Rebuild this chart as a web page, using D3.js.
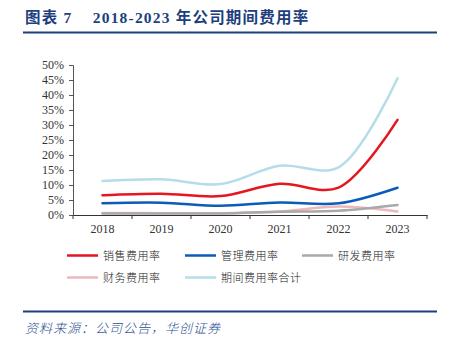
<!DOCTYPE html>
<html>
<head>
<meta charset="utf-8">
<script src="https://cdn.jsdelivr.net/npm/d3@7"></script>
<style>
  body { margin: 0; background: #fff; }
  svg { display: block; }
</style>
</head>
<body>
<div id="graph"></div>
<script>
// data (percent)
var years = ["2018", "2019", "2020", "2021", "2022", "2023"];
var salesRate = [6.6, 7.1, 6.3, 10.4, 9.1, 31.7];
var adminRate = [3.9, 4.1, 3.1, 4.2, 3.9, 9.1];
var rdRate = [0.5, 0.5, 0.5, 1.1, 1.4, 3.3];
var financeRate = [0.7, 0.6, 0.6, 1.2, 2.8, 1.2];
var totalRate = [11.3, 11.9, 10.3, 16.4, 15.9, 45.6];
var yTicks = [0, 5, 10, 15, 20, 25, 30, 35, 40, 45, 50];

var seriesNames = ["销售费用率", "管理费用率", "研发费用率", "财务费用率", "期间费用率合计"];
var seriesValues = [salesRate, adminRate, rdRate, financeRate, totalRate];
var seriesColors = ["#e5161f", "#0b5cb8", "#a9a9a9", "#ebb8bb", "#b5dde9"];

const WIDTH = 454, HEIGHT = 338;
const titleBlue = "#1d3f7e";
const serif = "'Liberation Serif', 'Times New Roman', serif";
const cjk = "'Liberation Serif', 'Noto Sans CJK SC', serif";

var svg = d3.select("#graph").append("svg")
  .attr("width", WIDTH).attr("height", HEIGHT);

// title + rules
svg.append("text")
  .attr("x", 25).attr("y", 23)
  .attr("fill", titleBlue)
  .style("font-family", cjk)
  .style("font-size", "15.5px")
  .style("font-weight", "bold")
  .style("letter-spacing", "1.2px")
  .text("图表 7\u00a0\u00a0\u00a0\u00a02018-2023 年公司期间费用率");

svg.append("line").attr("x1", 23).attr("x2", 437).attr("y1", 32.5).attr("y2", 32.5)
  .attr("stroke", titleBlue).attr("stroke-width", 2);
svg.append("line").attr("x1", 23).attr("x2", 437).attr("y1", 311.5).attr("y2", 311.5)
  .attr("stroke", titleBlue).attr("stroke-width", 2);

svg.append("text")
  .attr("x", 25).attr("y", 333)
  .attr("fill", "#2a4f8f")
  .style("font-family", "'Noto Sans CJK SC', sans-serif")
  .style("font-size", "13px")
  .style("font-style", "italic")
  .style("font-weight", "300")
  .style("letter-spacing", "1px")
  .text("资料来源：公司公告，华创证券");

// scales
var x = d3.scaleBand().domain(years).range([73, 427]).padding(0);
var y = d3.scaleLinear().domain([0, 50]).range([215, 65]);

// y axis
var yAxis = svg.append("g")
  .attr("transform", "translate(73,0)")
  .call(d3.axisLeft(y).tickValues(yTicks).tickSize(4).tickPadding(5)
    .tickFormat(function (d) { return d + "%"; }));
yAxis.selectAll("text")
  .style("font-family", serif).style("font-size", "12px").attr("fill", "#333");
yAxis.selectAll("line, path").attr("stroke", "#555");

// x axis (labels at centres, ticks at band edges)
var xAxis = svg.append("g")
  .attr("transform", "translate(0,215)")
  .call(d3.axisBottom(x).tickSize(0).tickPadding(9).tickSizeOuter(0));
xAxis.selectAll("text")
  .style("font-family", serif).style("font-size", "12px").attr("fill", "#333");
xAxis.select("path").attr("stroke", "#333");
var edges = years.map(function (d) { return x(d); }).concat([x.range()[1]]);
xAxis.selectAll(".edge").data(edges).enter().append("line")
  .attr("x1", function (d) { return d; }).attr("x2", function (d) { return d; })
  .attr("y1", 0).attr("y2", 4).attr("stroke", "#333");

// lines
var line = d3.line()
  .x(function (d, i) { return x(years[i]) + x.bandwidth() / 2; })
  .y(function (d) { return y(d); })
  .curve(d3.curveCatmullRom.alpha(0.5));

var drawOrder = [3, 2, 1, 0, 4];
drawOrder.forEach(function (k) {
  svg.append("path")
    .attr("d", line(seriesValues[k]))
    .attr("fill", "none")
    .attr("stroke", seriesColors[k])
    .attr("stroke-width", 2.5)
    .attr("stroke-linecap", "round");
});

// legend
var legendPos = [[67, 255.5], [185, 255.5], [302, 255.5], [67, 277.5], [185, 277.5]];
seriesNames.forEach(function (name, k) {
  var g = svg.append("g").attr("transform", "translate(" + legendPos[k][0] + "," + legendPos[k][1] + ")");
  g.append("line").attr("x1", 0).attr("x2", 31).attr("y1", 0).attr("y2", 0)
    .attr("stroke", seriesColors[k]).attr("stroke-width", 2.5);
  g.append("text").attr("x", 36).attr("y", 4)
    .style("font-family", "'Noto Sans CJK SC', sans-serif")
    .style("font-size", "11px")
    .style("font-weight", "300")
    .attr("fill", "#222")
    .style("letter-spacing", "0.5px")
    .text(name);
});
</script>
</body>
</html>
